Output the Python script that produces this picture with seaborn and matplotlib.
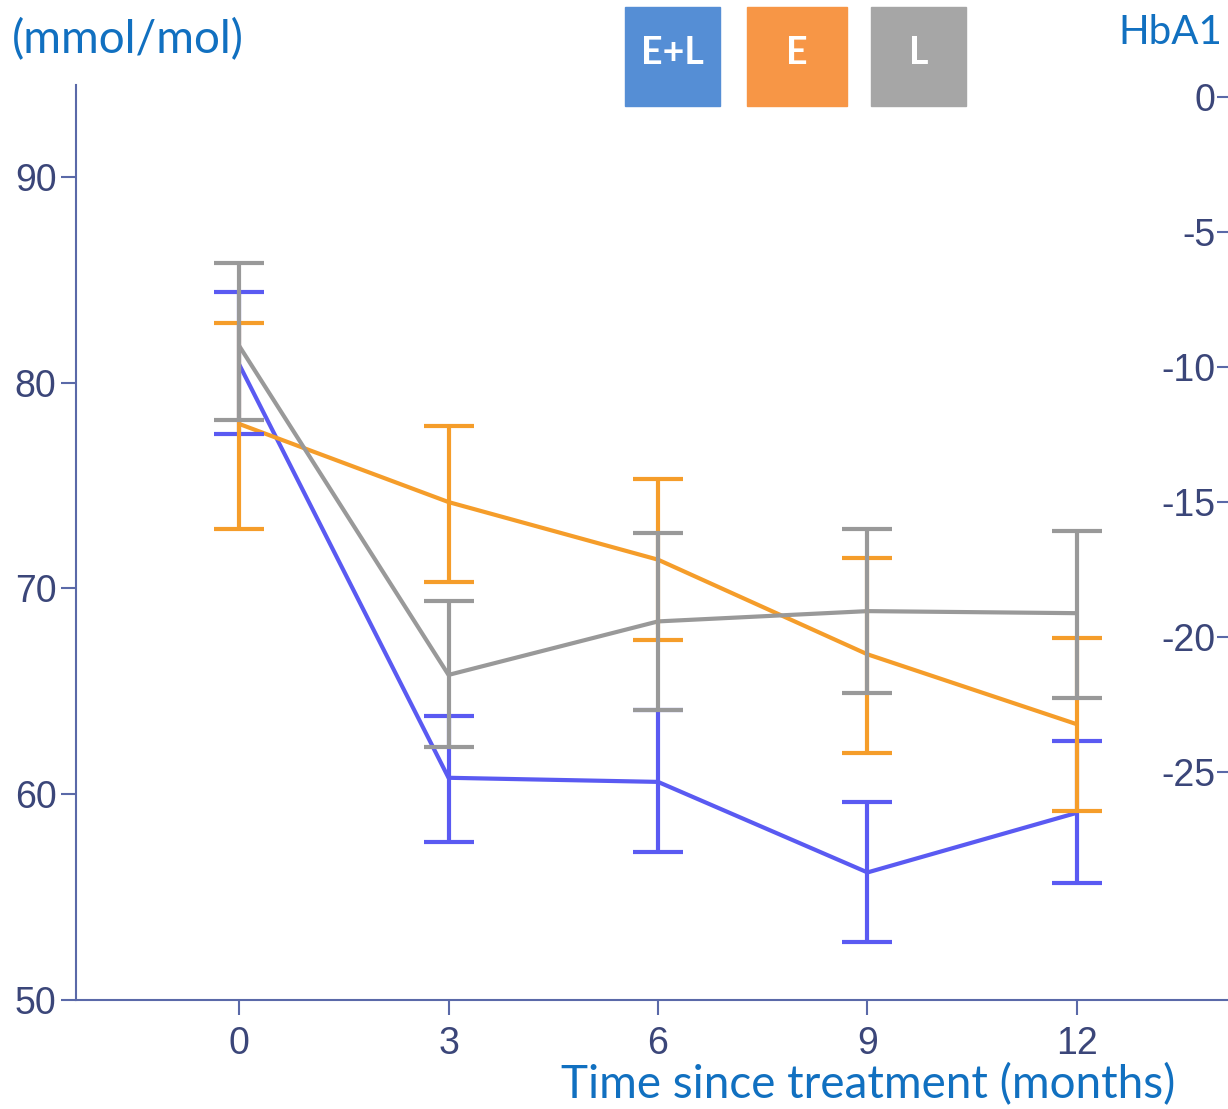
import matplotlib
matplotlib.use("Agg")
import matplotlib.pyplot as plt
import seaborn as sns
import pandas as pd
import numpy as np

# ====== data (HbA1c, mmol/mol) ======
months = [0, 3, 6, 9, 12]
groups = ["E+L", "E", "L"]

el_mean = [80.9, 60.8, 60.6, 56.2, 59.1]
el_low = [77.5, 57.7, 57.2, 52.8, 55.7]
el_high = [84.4, 63.8, 64.1, 59.6, 62.6]

e_mean = [78.0, 74.2, 71.4, 66.8, 63.4]
e_low = [72.9, 70.3, 67.5, 62.0, 59.2]
e_high = [82.9, 77.9, 75.3, 71.5, 67.6]

l_mean = [81.8, 65.8, 68.4, 68.9, 68.8]
l_low = [78.2, 62.3, 64.1, 64.9, 64.7]
l_high = [85.8, 69.4, 72.7, 72.9, 72.8]

left_ticks = [50, 60, 70, 80, 90]
right_ticks = [0, -5, -10, -15, -20, -25]

line_colors = {"E+L": "#5a5af2", "E": "#f59d2a", "L": "#999999"}
box_colors = {"E+L": "#558ed5", "E": "#f79646", "L": "#a6a6a6"}
spine_col = "#5a69a8"
tick_col = "#3b4679"
text_blue = "#1170c0"

df = pd.DataFrame({
    "month": months * 3,
    "group": ["E+L"] * 5 + ["E"] * 5 + ["L"] * 5,
    "mean": el_mean + e_mean + l_mean,
    "low": el_low + e_low + l_low,
    "high": el_high + e_high + l_high,
})

sns.set_style("white")
plt.rcParams["font.family"] = ["Liberation Sans", "DejaVu Sans"]

fig = plt.figure(figsize=(12.28, 11.09), dpi=100)
ax = fig.add_axes([76 / 1228, 109 / 1109, (1232 - 76) / 1228, 915 / 1109])

sns.lineplot(data=df, x="month", y="mean", hue="group", hue_order=groups,
             palette=line_colors, linewidth=3, legend=False, ax=ax, zorder=2)

for i, g in enumerate(groups):
    sub = df[df["group"] == g]
    yerr = [sub["mean"] - sub["low"], sub["high"] - sub["mean"]]
    ax.errorbar(sub["month"], sub["mean"], yerr=yerr, fmt="none",
                ecolor=line_colors[g], elinewidth=3, capsize=18,
                capthick=3, zorder=3 + i)

ax.set_xlim(-2.335, 14.22)
ax.set_ylim(50, 94.47)
ax.set_xticks(months)
ax.set_yticks(left_ticks)
ax.set_xlabel("")
ax.set_ylabel("")
for s in ["top", "right"]:
    ax.spines[s].set_visible(False)
for s in ["left", "bottom"]:
    ax.spines[s].set_color(spine_col)
    ax.spines[s].set_linewidth(1.5)
ax.tick_params(axis="both", direction="out", length=11, width=1.5,
               left=True, bottom=True,
               color=spine_col, labelcolor=tick_col, labelsize=27, pad=3)
ax.tick_params(axis="x", pad=8)

# right-hand scale (change), cut off at image edge
ax2 = fig.add_axes(ax.get_position(), frameon=False)
ax2.patch.set_visible(False)
ax2.set_xticks([])
ax2.set_ylim(-33.44, 0.444)
ax2.set_yticks(right_ticks)
ax2.set_yticklabels([str(t) for t in right_ticks])
ax2.spines["left"].set_position(("axes", 1.0))
ax2.spines["left"].set_visible(True)
ax2.spines["left"].set_color(spine_col)
ax2.tick_params(axis="y", direction="out", length=11, width=1.5, left=True,
                color=spine_col, labelcolor=tick_col, labelsize=27, pad=1)

lato = ["Lato", "DejaVu Sans"]
fig.text(12 / 1228, 1 - 40 / 1109, "(mmol/mol)", color=text_blue,
         fontsize=33, family=lato, va="center", ha="left")
fig.text(1222 / 1228, 1 - 33 / 1109, "HbA1", color=text_blue,
         fontsize=29, family=lato, va="center", ha="right")
fig.text(868 / 1228, 1 - 1085 / 1109, "Time since treatment (months)",
         color=text_blue, fontsize=33, family=lato,
         va="center", ha="center")

# legend boxes
boxes = [("E+L", 625, 720), ("E", 747, 847), ("L", 871, 966)]
for g, x0, x1 in boxes:
    fig.patches.append(plt.Rectangle((x0 / 1228, 1 - 106 / 1109),
                                     (x1 - x0) / 1228, 99 / 1109,
                                     transform=fig.transFigure,
                                     color=box_colors[g], zorder=1))
    fig.text((x0 + x1) / 2 / 1228, 1 - 53 / 1109, g, color="white",
             fontsize=27, fontweight="bold", family=lato,
             ha="center", va="center", zorder=2)

fig.savefig("out.png", dpi=100)
